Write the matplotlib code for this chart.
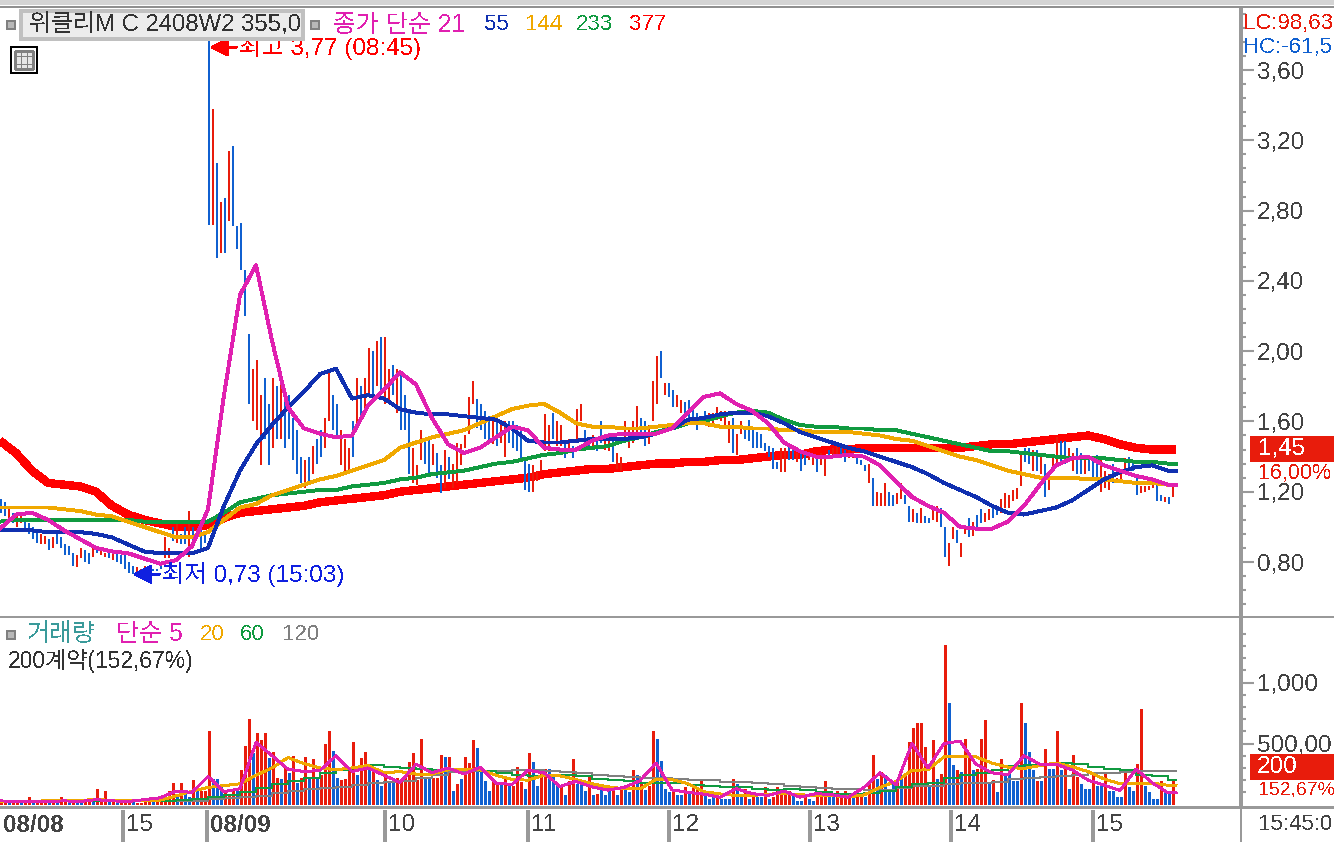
import numpy as np
import matplotlib
matplotlib.use("Agg")
import matplotlib.pyplot as plt
from matplotlib.patches import Rectangle
from matplotlib.ticker import FixedLocator, NullFormatter

plt.rcParams['font.family'] = ['Liberation Sans', 'Noto Sans CJK KR', 'DejaVu Sans']
plt.rcParams['text.antialiased'] = False
plt.rcParams['lines.antialiased'] = False
plt.rcParams['patch.antialiased'] = False

W, H = 1334, 842

candle_high = [
 1.16,1.14,1.10,1.08,1.06,1.07,1.04,1.02,1.00,0.98,
 .96,.95,.93,.94,.97,.94,.90,.89,.85,.84,
 .88,.87,.85,.88,.87,.86,.85,.87,.86,.85,
 .84,.85,.80,.78,.77,.76,.78,.77,.76,.76,
 .78,.94,.88,1.00,1.02,.96,1.00,1.09,1.00,.98,
 .98,.97,3.77,3.38,3.07,2.85,2.87,3.14,3.17,2.71,
 2.73,2.46,2.10,1.90,1.95,1.75,1.85,1.70,1.85,1.80,
 1.85,1.78,1.75,1.62,1.55,1.40,1.38,1.40,1.46,1.50,
 1.55,1.62,1.90,1.75,1.70,1.55,1.50,1.45,1.60,1.85,
 1.80,1.85,2.02,2.00,2.06,2.08,2.08,1.90,1.92,1.90,
 1.88,1.75,1.65,1.45,1.35,1.55,1.50,1.50,1.47,1.42,
 1.35,1.44,1.40,1.36,1.48,1.47,1.52,1.74,1.83,1.73,
 1.70,1.66,1.63,1.60,1.62,1.60,1.60,1.60,1.60,1.58,
 1.55,1.38,1.36,1.35,1.31,1.38,1.64,1.58,1.65,1.60,
 1.58,1.47,1.50,1.46,1.67,1.70,1.55,1.50,1.52,1.50,
 1.60,1.52,1.50,1.52,1.42,1.40,1.60,1.56,1.60,1.69,
 1.62,1.60,1.58,1.83,1.97,2.00,1.82,1.82,1.78,1.75,
 1.72,1.71,1.72,1.68,1.65,1.62,1.66,1.65,1.65,1.68,
 1.66,1.66,1.60,1.62,1.53,1.60,1.56,1.61,1.55,1.54,
 1.53,1.48,1.46,1.45,1.37,1.45,1.45,1.48,1.45,1.42,
 1.42,1.41,1.41,1.41,1.40,1.42,1.41,1.44,1.45,1.48,
 1.46,1.44,1.44,1.44,1.41,1.38,1.35,1.36,1.28,1.20,
 1.19,1.25,1.20,1.18,1.19,1.25,1.18,1.12,1.10,1.08,
 1.11,1.06,1.05,1.11,1.12,1.11,1.00,.91,1.00,.98,
 .91,1.01,1.05,1.03,1.07,1.10,1.08,1.10,1.11,1.12,
 1.16,1.19,1.18,1.21,1.22,1.43,1.45,1.45,1.44,1.44,
 1.41,1.36,1.28,1.40,1.51,1.49,1.49,1.45,1.42,1.45,
 1.42,1.40,1.40,1.40,1.41,1.40,1.32,1.30,1.36,1.28,
 1.31,1.39,1.40,1.37,1.28,1.23,1.23,1.23,1.24,1.27,
 1.18,1.17,1.17,1.23]
candle_low = [
 1.08,1.06,1.04,1.02,1.00,1.02,0.98,0.96,0.93,0.91,
 .90,.90,.87,.88,.90,.88,.84,.84,.78,.77,
 .82,.80,.79,.83,.85,.84,.83,.82,.81,.80,
 .79,.76,.74,.73,.74,.74,.75,.75,.75,.75,
 .76,.82,.82,.92,.91,.90,.90,.83,.92,.93,
 .88,.91,2.72,2.72,2.53,2.56,2.56,2.74,2.71,2.58,
 2.46,2.20,1.70,1.60,1.55,1.35,1.50,1.35,1.45,1.50,
 1.50,1.45,1.50,1.38,1.30,1.25,1.22,1.26,1.30,1.36,
 1.40,1.45,1.60,1.55,1.52,1.35,1.30,1.30,1.40,1.55,
 1.60,1.65,1.75,1.75,1.80,1.78,1.70,1.70,1.75,1.65,
 1.55,1.55,1.30,1.25,1.24,1.38,1.36,1.30,1.35,1.28,
 1.19,1.22,1.27,1.22,1.25,1.35,1.45,1.53,1.70,1.56,
 1.55,1.50,1.47,1.47,1.46,1.48,1.40,1.48,1.45,1.43,
 1.38,1.21,1.20,1.20,1.26,1.32,1.43,1.43,1.50,1.46,
 1.46,1.39,1.42,1.39,1.49,1.60,1.47,1.44,1.44,1.43,
 1.48,1.44,1.43,1.37,1.33,1.32,1.48,1.45,1.48,1.52,
 1.50,1.46,1.47,1.60,1.70,1.85,1.75,1.74,1.68,1.68,
 1.65,1.65,1.60,1.60,1.55,1.58,1.58,1.57,1.57,1.61,
 1.60,1.58,1.48,1.42,1.41,1.53,1.50,1.49,1.45,1.45,
 1.45,1.43,1.40,1.33,1.33,1.31,1.31,1.38,1.38,1.37,
 1.32,1.35,1.38,1.35,1.31,1.35,1.29,1.40,1.40,1.40,
 1.41,1.37,1.39,1.39,1.36,1.35,1.32,1.25,1.12,1.12,
 1.12,1.12,1.12,1.12,1.13,1.16,1.13,1.03,1.03,1.02,
 1.02,1.02,1.02,1.04,1.03,1.00,.83,.78,.93,.91,
 .83,.96,.94,.95,1.00,1.02,1.03,1.04,1.05,1.07,
 1.08,1.11,1.11,1.15,1.16,1.23,1.37,1.36,1.32,1.32,
 1.30,1.17,1.21,1.31,1.35,1.36,1.36,1.38,1.32,1.30,
 1.30,1.30,1.32,1.28,1.28,1.20,1.22,1.21,1.25,1.25,
 1.26,1.30,1.32,1.32,1.18,1.19,1.20,1.21,1.22,1.15,
 1.15,1.14,1.13,1.17]
candle_dir = ("BBRBRRBBBB" "RRBRBBBBBR" "RBBRBRRBRB" "BBBBRRRRBB" "BRRBRBBRBR"
              "BBBRBRBRBB" "BBBRRRBBRB" "RBBBBBRBRB" "BRRBBRRRBR" "BRRBRBRRBR"
              "BBBRRRBBRB" "BRBRRRRRRB" "BBBRBRRBBB" "BBBRRRRRBR" "RBRBRRBBRB"
              "BRRBRRRRRR" "BBRRRBRBBR" "RBBBBRBRRR" "RRRBRRBBBB" "BBBBBRRBBR"
              "BBRRBRRBRR" "BBRRBBBRBR" "RRBBRRBBRB" "RBBRRBBRRB" "RRBRBBRRBB"
              "RRRRRRBBRB" "RBRRRBBRRB" "BRBBBRRRBR" "RRBBBRRRRB" "BRBR")

volume = [
 20,20,20,15,20,20,25,60,25,20,
 20,45,20,30,20,60,25,20,25,15,
 20,20,25,20,130,20,110,20,20,15,
 15,30,30,20,15,15,30,55,20,30,
 40,85,110,175,60,175,110,60,200,110,
 110,110,600,210,210,150,110,90,120,110,
 280,480,700,420,590,525,590,380,430,220,
 210,300,260,400,180,220,390,210,375,210,
 240,500,600,440,220,200,210,280,510,240,
 385,430,280,280,200,150,260,180,180,220,
 200,240,345,420,200,540,210,210,220,220,
 410,390,393,115,165,210,393,340,525,460,
 290,195,115,195,170,170,230,170,155,310,
 185,130,425,345,155,290,290,290,230,165,
 147,80,195,375,170,195,115,240,75,87,
 130,80,115,130,80,140,120,100,280,245,
 180,120,155,605,540,360,130,100,115,80,
 80,147,85,147,147,195,80,45,60,75,
 45,45,45,210,165,80,130,45,93,60,
 60,147,45,60,147,80,80,115,80,33,
 33,80,45,33,60,60,195,115,65,115,
 60,115,60,60,93,93,60,185,410,210,
 265,240,115,170,210,240,230,510,630,665,
 665,470,140,525,210,250,1310,835,320,280,
 265,540,400,280,290,540,690,170,200,100,
 375,250,250,195,195,835,670,430,280,195,
 195,455,290,290,605,280,330,130,410,225,
 170,130,130,250,155,155,265,115,115,65,
 65,265,140,115,330,785,150,100,45,45,
 195,100,115,210]
volume_dir = ("RRBRRBRRBR" "RRBRBRRBRB" "BRRBRRRBRB" "RRRBRRRRBR" "RRRRBRBBRB"
              "RRRBBBRRRB" "RRRBRRRBRR" "BRBRBRRBRB" "RRRBBRRRRB" "RRBRBBRBBR"
              "RRRRRRBBRR" "RBRBRBRRRB" "BBBRRBRBRR" "RBRBBRRBBB" "RBRRBBBRBR"
              "BBBRBRBBRB" "RBRRBBBBRB" "BRBRRRBBBR" "BBBRBBRBRB" "BRBRRRRRBB"
              "BRBBRRRBBR" "RRRBRRBRRB" "RBBBRBRRRR" "RRBRBRRBBR" "BRRBRRRBRB"
              "RBBBBRBBBR" "BRBBRBRBRR" "BBBRBBRBBB" "BRBBRRBBBB" "RBBR")

ma21 = [0.99,1.07,1.08,1.04,0.98,0.93,0.88,0.86,0.85,0.82,0.79,0.81,0.89,1.10,1.75,2.32,2.49,2.06,1.68,1.56,
 1.53,1.51,1.52,1.69,1.78,1.88,1.81,1.62,1.47,1.42,1.45,1.51,1.57,1.55,1.45,1.44,1.44,1.49,1.52,1.53,
 1.53,1.53,1.56,1.65,1.74,1.76,1.70,1.66,1.59,1.48,1.43,1.40,1.40,1.41,1.40,1.35,1.26,1.17,1.12,1.08,
 1.00,0.99,0.99,1.03,1.12,1.24,1.35,1.39,1.40,1.35,1.32,1.29,1.27,1.24,1.24]
ma55 = [0.98,0.98,0.98,0.97,0.97,0.97,0.96,0.94,0.90,0.86,0.85,0.85,0.85,0.88,1.12,1.32,1.47,1.58,1.68,1.77,
 1.87,1.90,1.73,1.75,1.73,1.67,1.65,1.64,1.64,1.63,1.62,1.61,1.56,1.49,1.48,1.48,1.49,1.50,1.50,1.50,
 1.51,1.53,1.56,1.61,1.62,1.64,1.65,1.65,1.63,1.59,1.54,1.51,1.48,1.45,1.43,1.40,1.37,1.34,1.30,1.25,
 1.21,1.17,1.12,1.08,1.07,1.09,1.11,1.15,1.21,1.27,1.31,1.34,1.35,1.32,1.32]
ma144 = [1.11,1.11,1.11,1.11,1.10,1.09,1.07,1.06,1.03,1.00,0.97,0.94,0.94,0.97,1.04,1.11,1.13,1.18,1.21,1.24,
 1.27,1.29,1.32,1.35,1.38,1.45,1.48,1.51,1.53,1.55,1.59,1.63,1.67,1.69,1.70,1.65,1.59,1.57,1.57,1.56,
 1.56,1.57,1.58,1.59,1.59,1.57,1.57,1.56,1.56,1.55,1.55,1.54,1.54,1.54,1.53,1.52,1.50,1.49,1.46,1.43,
 1.40,1.38,1.35,1.32,1.30,1.28,1.28,1.28,1.27,1.27,1.26,1.25,1.25,1.24,1.24]
ma233 = [1.03,1.04,1.04,1.04,1.04,1.04,1.04,1.04,1.04,1.03,1.03,1.03,1.03,1.03,1.08,1.14,1.16,1.18,1.19,1.20,
 1.21,1.21,1.23,1.24,1.25,1.27,1.28,1.30,1.31,1.32,1.34,1.36,1.37,1.39,1.41,1.42,1.44,1.45,1.46,1.49,
 1.51,1.54,1.56,1.59,1.60,1.63,1.65,1.66,1.65,1.61,1.58,1.57,1.57,1.56,1.56,1.55,1.55,1.53,1.51,1.49,
 1.47,1.45,1.43,1.43,1.42,1.41,1.40,1.39,1.39,1.39,1.38,1.37,1.37,1.36,1.36]
ma377 = [1.49,1.42,1.32,1.25,1.24,1.23,1.20,1.12,1.07,1.04,1.02,1.00,1.00,1.01,1.05,1.08,1.09,1.10,1.11,1.12,
 1.14,1.15,1.16,1.17,1.18,1.20,1.21,1.22,1.23,1.24,1.25,1.26,1.27,1.28,1.30,1.31,1.32,1.33,1.33,1.34,
 1.35,1.36,1.36,1.37,1.37,1.38,1.38,1.39,1.40,1.41,1.41,1.43,1.44,1.44,1.45,1.45,1.45,1.45,1.45,1.45,
 1.45,1.46,1.47,1.47,1.48,1.49,1.50,1.51,1.52,1.50,1.47,1.45,1.44,1.44,1.44]

vma5 = [30,25,25,25,30,25,40,30,25,40,55,110,100,230,105,130,510,400,290,270,
 280,400,270,300,240,180,330,260,300,250,305,175,165,280,260,147,190,145,118,140,
 195,340,120,100,85,60,130,90,74,110,60,90,80,60,140,260,160,500,300,500,
 520,330,260,245,400,330,330,285,200,160,115,290,180,95,100]
vma20 = [25,25,28,30,30,35,40,35,30,30,35,70,110,140,155,170,240,300,385,335,
 300,285,300,320,260,270,250,250,285,285,285,240,205,200,240,235,205,170,145,130,
 128,205,205,170,105,87,74,74,85,90,80,74,74,62,78,140,190,280,285,390,
 390,390,340,306,295,320,340,310,270,210,170,175,175,158,155]
vma60 = [25,25,25,25,25,25,25,25,25,25,30,40,48,60,75,100,135,170,195,220,
 255,285,305,320,310,300,290,285,290,280,273,260,245,235,245,245,232,210,198,190,
 175,180,175,158,148,142,142,130,122,128,118,105,87,85,95,115,145,165,175,215,
 240,260,285,312,322,333,338,335,310,295,280,245,235,205,197]
vma120 = [25,25,25,25,25,25,25,25,25,25,25,25,25,45,52,58,70,95,115,130,
 135,140,160,180,185,190,215,245,270,273,273,275,285,285,275,268,258,245,235,222,
 218,215,210,205,200,188,182,175,165,155,146,138,128,128,120,123,138,148,155,165,
 175,180,188,208,218,224,235,245,255,262,268,273,273,273,273]

price_ticks = [3.60, 3.20, 2.80, 2.40, 2.00, 1.60, 1.20, 0.80]
price_labels = ['3,60', '3,20', '2,80', '2,40', '2,00', '1,60', '1,20', '0,80']
volume_ticks = [1000, 500]
volume_labels = ['1,000', '500,00']
session_ticks = [30.75, 51.75, 96.25, 132, 167.25, 202.5, 237.75, 273.25]
session_labels = ['15', '08/09', '10', '11', '12', '13', '14', '15']

RED, BLUE = '#e81c0c', '#1060d0'
MAG, NAVY, ORG, GRN, GRY, PURE = '#e020b0', '#1030b0', '#f0a800', '#109a40', '#808080', '#ff0000'
AXC = '#999999'
TXT = '#444444'

fig = plt.figure(figsize=(W/100, H/100), dpi=100, facecolor='white')
pane = lambda l, t, r, b: [l/W, 1-b/H, (r-l)/W, (b-t)/H]
XMAX = 1241/4

ax = fig.add_axes(pane(0, 8, 1241, 616))
axv = fig.add_axes(pane(0, 617, 1241, 806))
axd = fig.add_axes(pane(0, 808, 1241, 842))

def fy(y):
    return 1-y/H

def box(x0, y0, x1, y1, fc, ec='none', lw=0, z=5):
    fig.add_artist(Rectangle((x0/W, fy(y1)), (x1-x0)/W, (y1-y0)/H, transform=fig.transFigure,
                             facecolor=fc, edgecolor=ec, linewidth=lw, zorder=z, antialiased=False))

def txt(x, y, s, c, size=16, ha='left', weight='normal', z=8):
    fig.text(x/W, fy(y), s, color=c, fontsize=size, ha=ha, va='center', fontweight=weight, zorder=z)

# price pane
xb = np.arange(len(candle_high))
xl = np.r_[np.arange(0, 293, 4), 294]
colc = [RED if d == 'R' else BLUE for d in candle_dir]
ax.plot(xl, ma377, color=PURE, lw=5.3, zorder=1, solid_capstyle='butt', antialiased=False)
ax.bar(xb, np.array(candle_high)-np.array(candle_low), bottom=candle_low, width=0.5, align='edge',
       color=colc, linewidth=0, zorder=2, antialiased=False)
for series, col, z in [(ma233, GRN, 3), (ma144, ORG, 3.1), (ma55, NAVY, 3.2), (ma21, MAG, 3.3)]:
    ax.plot(xl, series, color=col, lw=2.1, zorder=z, antialiased=False)
ax.set_xlim(0, XMAX)
ax.set_ylim(0.8-(616-562)/175.7, 0.8+(562-8)/175.7)

ax.annotate('최고 3,77 (08:45)', xy=(52.5, 3.73), xytext=(21, 0), textcoords='offset points',
            color=PURE, fontsize=17.5, va='center', ha='left', zorder=9, annotation_clip=False,
            arrowprops=dict(arrowstyle='-|>', color=PURE, lw=1.5, mutation_scale=28, shrinkA=0, shrinkB=0))
ax.annotate('최저 0,73 (15:03)', xy=(33.2, 0.73), xytext=(21, 0), textcoords='offset points',
            color='#1020e0', fontsize=17.5, va='center', ha='left', zorder=9, annotation_clip=False,
            arrowprops=dict(arrowstyle='-|>', color='#1020e0', lw=1.5, mutation_scale=28, shrinkA=0, shrinkB=0))

# volume pane
colv = [RED if d == 'R' else BLUE for d in volume_dir]
axv.bar(xb, volume, width=0.75, color=colv, align='edge', linewidth=0, zorder=2, antialiased=False)
axv.plot(xl, vma120, color=GRY, lw=1.4, zorder=3, drawstyle='steps-post', antialiased=False)
axv.plot(xl, vma60, color=GRN, lw=1.4, zorder=3.1, drawstyle='steps-post', antialiased=False)
axv.plot(xl, vma20, color=ORG, lw=1.4, zorder=3.2, antialiased=False)
axv.plot(xl, vma5, color=MAG, lw=1.4, zorder=3.3, antialiased=False)
axv.set_xlim(0, XMAX)
axv.set_ylim(-12, (804.5-617)/0.122)

for a, major, labels, minor in [
        (ax, price_ticks, price_labels, np.arange(0.56, 3.96, 0.08)),
        (axv, volume_ticks, volume_labels, np.arange(100, 1500, 100))]:
    a.yaxis.tick_right()
    a.set_yticks(major)
    a.set_yticklabels(labels, fontsize=17.5, color=TXT)
    a.yaxis.set_minor_locator(FixedLocator(minor))
    a.yaxis.set_minor_formatter(NullFormatter())
    a.tick_params(axis='y', which='major', length=9.5, width=1.5, color=AXC, pad=2)
    a.tick_params(axis='y', which='minor', length=3.6, width=1.5, color=AXC)
    a.set_xticks([])
    for s in ['top', 'left', 'bottom']:
        a.spines[s].set_visible(False)
    a.spines['right'].set_color(AXC)
    a.spines['right'].set_linewidth(1.5)
    a.patch.set_alpha(0)

# date strip
axd.set_xlim(0, XMAX)
axd.set_ylim(0, 1)
axd.axis('off')
axd.vlines(session_ticks, 0, 0.95, colors=AXC, linewidth=1.5, antialiased=False)
for sx, sl in zip(session_ticks, session_labels):
    bold = '/' in sl
    axd.text(sx+0.7, 0.5, sl, color=TXT, fontsize=17.5, va='center', ha='left',
             fontweight='bold' if bold else 'normal')
axd.text(0.7, 0.5, '08/08', color=TXT, fontsize=17.5, va='center', ha='left', fontweight='bold')

# frame strips
box(0, 0, W, 5, '#d4d4d4', z=1)
box(0, 6, W, 8, '#909090', z=1)
box(0, 615.5, W, 617.5, AXC, z=1)
box(0, 806, W, 808.5, AXC, z=1)
box(1240, 8, 1242, H, AXC, z=1)

# header
box(21, 11, 303, 39, '#ececec', ec='#c0c0c0', lw=1.5, z=6)
txt(29, 25, '위클리M C 2408W2 355,0', '#333333', 17.2)
for sx, sy in [(6, 20), (310, 20), (6, 630)]:
    box(sx+1, sy+1, sx+9, sy+9, '#b8b8b8', ec='#808080', lw=1.2, z=6)
txt(333, 25, '종가 단순 21', MAG, 17.8)
txt(484, 25, '55', NAVY)
txt(525, 25, '144', ORG)
txt(576, 25, '233', GRN)
txt(629, 25, '377', PURE)

# table icon
box(11, 47, 37, 73, 'white', ec='black', lw=1.2, z=6)
box(15, 51, 33, 69, '#e6e6e6', ec='#808080', lw=0.8, z=7)
for gx in (21, 27):
    box(gx, 51, gx+0.8, 69, '#808080', z=7)
for gy in (56, 64):
    box(15, gy, 33, gy+0.8, '#808080', z=7)

# right side readouts
txt(1243, 23, 'LC:98,63', RED, 16)
txt(1243, 47, 'HC:-61,5', BLUE, 16)
box(1250, 436, W, 462, RED, z=6)
txt(1258, 449, '1,45', 'white', 17.5)
txt(1258, 473, '16,00%', RED, 15.5)
box(1250, 754, W, 780, RED, z=6)
txt(1257, 767, '200', 'white', 17.5)
txt(1258, 790, '152,67%', RED, 14)
txt(1258, 824, '15:45:0', TXT, 16)

# volume legend
txt(27, 634, '거래량', '#3a9a9a', 18)
txt(116, 634, '단순 5', MAG, 18)
txt(200, 634, '20', ORG)
txt(240, 634, '60', GRN)
txt(282, 634, '120', GRY)
txt(8, 661, '200계약(152,67%)', '#333333', 16.5)

fig.savefig('out.png', dpi=100, facecolor='white')
